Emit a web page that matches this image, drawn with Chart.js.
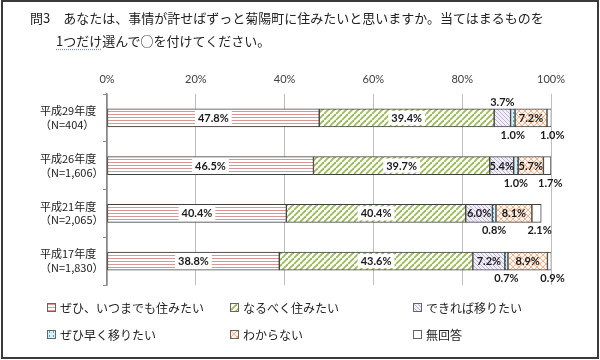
<!DOCTYPE html>
<html lang="ja">
<head>
<meta charset="utf-8">
<title>菊陽町 定住意向</title>
<script src="https://cdn.jsdelivr.net/npm/chart.js@4.4.1/dist/chart.umd.min.js"></script>
<style>
  body { margin: 0; background: #fff; }
  #wrap { position: relative; width: 600px; height: 360px; overflow: hidden; }
  #chart { position: absolute; left: 0; top: 0; }
  .frame { position: absolute; left: 1px; top: 0; width: 594px; height: 355px; border: 2px solid #3a3a3a; pointer-events: none; }
  .title { position: absolute; left: 30px; top: 6px; font: 13px "Noto Sans CJK JP", sans-serif; color: #222; line-height: 23px; white-space: nowrap; }
  .title .l2 { padding-left: 26px; }
  .title u { text-decoration: underline dotted #7f8fa6; text-underline-offset: 3px; }
  #legend { position: absolute; left: 47px; top: 298px; display: grid; grid-template-columns: 183px 183px 150px; row-gap: 8px;
            font: 12px "Noto Sans CJK JP", sans-serif; color: #222; }
  #legend .item { display: flex; align-items: center; height: 19px; }
  #legend .sw { width: 7px; height: 7px; border: 1px solid #666; margin-right: 4px; flex: none; }
</style>
</head>
<body>
<div id="wrap">
  <canvas id="chart" width="600" height="360"></canvas>
  <div class="title">
    <div>問3　あなたは、事情が許せばずっと菊陽町に住みたいと思いますか。当てはまるものを</div>
    <div class="l2"><u>1つだけ</u>選んで○を付けてください。</div>
  </div>
  <div id="legend"></div>
  <div class="frame"></div>
</div>
<script>
    'use strict';

    const categories = [
        ['平成29年度', '（N=404）'],
        ['平成26年度', '（N=1,606）'],
        ['平成21年度', '（N=2,065）'],
        ['平成17年度', '（N=1,830）']
    ];
    const seriesNames = ['ぜひ、いつまでも住みたい', 'なるべく住みたい', 'できれば移りたい', 'ぜひ早く移りたい', 'わからない', '無回答'];

    const wantForever    = [47.8, 46.5, 40.4, 38.8];
    const wantIfPossible = [39.4, 39.7, 40.4, 43.6];
    const moveIfPossible = [3.7, 5.4, 6.0, 7.2];
    const moveSoon       = [1.0, 1.0, 0.8, 0.7];
    const dontKnow       = [7.2, 5.7, 8.1, 8.9];
    const noAnswer       = [1.0, 1.7, 2.1, 0.9];

    const xMin = 0, xMax = 100, xStep = 20;

    function makeTile(size, bg, draw) {
        const c = document.createElement('canvas');
        c.width = c.height = size;
        const g = c.getContext('2d');
        g.fillStyle = bg;
        g.fillRect(0, 0, size, size);
        if (draw) draw(g, size);
        return c;
    }

    const tiles = [
        // horizontal pink lines
        makeTile(3, '#ffffff', function(g) { g.fillStyle = '#d99694'; g.fillRect(0, 0, 3, 1); }),
        // green forward diagonals
        makeTile(6, '#ffffff', function(g, s) {
            g.strokeStyle = '#9bbb59'; g.lineWidth = 1.8;
            [-s, 0, s].forEach(o => { g.beginPath(); g.moveTo(o, s); g.lineTo(o + s, 0); g.stroke(); });
        }),
        // purple back diagonals
        makeTile(4, '#f1eef7', function(g, s) {
            g.strokeStyle = '#b3a6cf'; g.lineWidth = 0.8;
            [-s, 0, s].forEach(o => { g.beginPath(); g.moveTo(o, 0); g.lineTo(o + s, s); g.stroke(); });
        }),
        // light blue dotted
        makeTile(4, '#d6eef5', function(g) { g.fillStyle = '#4bacc6'; g.fillRect(1, 0, 1, 2); }),
        // peach crosshatch
        makeTile(6, '#fdf3ec', function(g, s) {
            g.strokeStyle = '#f2b48a'; g.lineWidth = 1;
            [-s, 0, s].forEach(o => {
                g.beginPath(); g.moveTo(o, 0); g.lineTo(o + s, s); g.stroke();
                g.beginPath(); g.moveTo(o, s); g.lineTo(o + s, 0); g.stroke();
            });
        }),
        makeTile(2, '#ffffff')
    ];

    const canvas = document.getElementById('chart');
    const ctx = canvas.getContext('2d');
    const patterns = tiles.map(t => ctx.createPattern(t, 'repeat'));

    // label placement for each series
    const placements = ['box', 'box', 'auto', 'below', 'inside', 'belowRight'];
    const seriesData = [wantForever, wantIfPossible, moveIfPossible, moveSoon, dontKnow, noAnswer];

    const segLabels = {
        id: 'segLabels',
        afterDatasetsDraw(chart) {
            const c = chart.ctx;
            c.save();
            c.font = 'bold 11px Lato, "Noto Sans", sans-serif';
            c.textAlign = 'center';
            c.textBaseline = 'middle';
            chart.data.datasets.forEach((ds, di) => {
                const meta = chart.getDatasetMeta(di);
                meta.data.forEach((bar, i) => {
                    const v = ds.data[i];
                    const txt = v.toFixed(1) + '%';
                    const top = bar.y - bar.height / 2;
                    const bottom = bar.y + bar.height / 2;
                    let x = (bar.x + bar.base) / 2;
                    let y = bar.y;
                    let place = placements[di];
                    if (place === 'auto') place = v < 5 ? 'above' : 'inside';
                    if (place === 'above') y = top - 7;
                    if (place === 'below') y = bottom + 8;
                    if (place === 'belowRight') { y = bottom + 8; x += 3; }
                    if (place === 'box') {
                        const w = c.measureText(txt).width + 6;
                        c.fillStyle = '#ffffff';
                        c.fillRect(x - w / 2, bar.y - 7, w, 14);
                    }
                    c.fillStyle = '#1a1a1a';
                    c.fillText(txt, x, y + 0.5);
                });
            });
            c.restore();
        }
    };

    new Chart(ctx, {
        type: 'bar',
        data: {
            labels: categories,
            datasets: seriesData.map((d, i) => ({
                label: seriesNames[i],
                data: d,
                backgroundColor: patterns[i],
                borderColor: '#404040',
                borderWidth: 1,
                borderSkipped: false,
                barThickness: 18
            }))
        },
        options: {
            indexAxis: 'y',
            responsive: false,
            animation: false,
            layout: { padding: { left: 40, right: 49, top: 0, bottom: 75 } },
            plugins: {
                legend: { display: false },
                tooltip: { enabled: false }
            },
            scales: {
                x: {
                    position: 'top',
                    stacked: true,
                    min: xMin,
                    max: xMax,
                    afterFit: function(scale) { scale.height = 94; },
                    ticks: {
                        stepSize: xStep,
                        padding: 8,
                        color: '#404040',
                        font: { family: 'Lato, "Noto Sans", sans-serif', size: 11 },
                        callback: v => v + '%'
                    },
                    grid: { color: '#bdbdbd', drawTicks: false },
                    border: { display: false }
                },
                y: {
                    stacked: true,
                    afterFit: function(scale) { scale.width = 67; },
                    ticks: {
                        crossAlign: 'far',
                        color: '#1a1a1a',
                        font: { family: '"Noto Sans CJK JP", sans-serif', size: 11, lineHeight: 1.25 }
                    },
                    grid: { drawOnChartArea: false, drawTicks: true, tickLength: 4, color: '#8a8a8a' },
                    border: { color: '#8a8a8a', width: 1.5 }
                }
            }
        },
        plugins: [segLabels]
    });

    // legend in 3 columns, built from the series names
    const legend = document.getElementById('legend');
    seriesNames.forEach((name, i) => {
        const item = document.createElement('div');
        item.className = 'item';
        const sw = document.createElement('span');
        sw.className = 'sw';
        sw.style.backgroundImage = 'url(' + tiles[i].toDataURL() + ')';
        item.appendChild(sw);
        item.appendChild(document.createTextNode(name));
        legend.appendChild(item);
    });
</script>
</body>
</html>
